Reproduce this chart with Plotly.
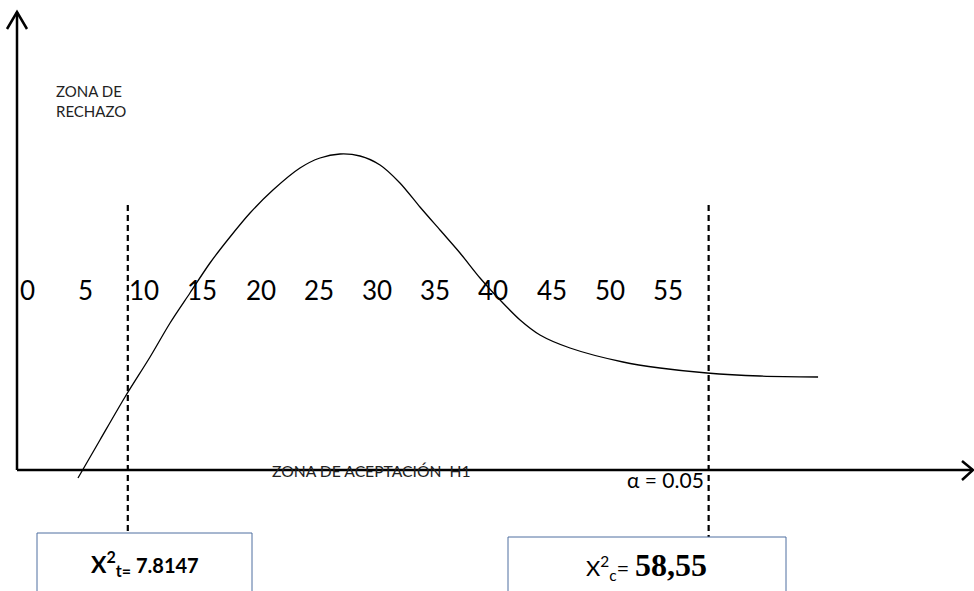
import plotly.graph_objects as go

# ---- data ----
tick_labels = ["0", "5", "10", "15", "20", "25", "30", "35", "40", "45", "50", "55"]
tick_values = [0, 5, 10, 15, 20, 25, 30, 35, 40, 45, 50, 55]

curve_x = [4.32, 6.21, 8.36, 10.51, 12.23, 13.94, 15.66, 17.38, 19.10, 21.07, 23.39,
           25.11, 26.83, 28.55, 30.27, 31.98, 33.70, 35.42, 37.14, 38.86, 40.58,
           42.30, 44.01, 46.59, 51.14, 54.32, 58.36, 62.91, 67.90]
curve_y = [-0.08, 0.30, 0.73, 1.13, 1.47, 1.77, 2.07, 2.33, 2.57, 2.80, 3.02,
           3.12, 3.16, 3.14, 3.05, 2.87, 2.63, 2.40, 2.17, 1.92, 1.70,
           1.50, 1.35, 1.22, 1.08, 1.02, 0.97, 0.94, 0.93]

critical_x = [8.6, 58.5]          # dashed lines (X²t and X²c positions as drawn)
chi_t = "7.8147"
chi_c = "58,55"
alpha = "0.05"

# ---- canvas geometry ----
W, H = 974, 591
X0, XS = 27.7, 11.64      # pixel = X0 + XS * value
Y0, YS = 470.0, 100.0     # pixel = Y0 - YS * value


def px(p):
    return (p - X0) / XS


def py(q):
    return (Y0 - q) / YS


fig = go.Figure()

fig.add_trace(go.Scatter(
    x=curve_x, y=curve_y, mode="lines",
    line=dict(color="black", width=1.3, shape="spline", smoothing=0.8),
    hoverinfo="skip", showlegend=False))

shapes = []
# y axis with open arrow
shapes.append(dict(type="line", x0=px(17), x1=px(17), y0=py(470), y1=py(12),
                   line=dict(color="black", width=2.5)))
shapes.append(dict(type="path",
                   path=f"M {px(7)} {py(29)} L {px(17)} {py(12)} L {px(27)} {py(29)}",
                   line=dict(color="black", width=2.5)))
# x axis with open arrow
shapes.append(dict(type="line", x0=px(17), x1=px(973), y0=0, y1=0,
                   line=dict(color="black", width=2.5)))
shapes.append(dict(type="path",
                   path=f"M {px(962)} {py(461)} L {px(973)} {py(470)} L {px(962)} {py(480)}",
                   line=dict(color="black", width=2.5)))
# dashed critical lines
box_tops = [533, 537]
for cx, bt in zip(critical_x, box_tops):
    shapes.append(dict(type="line", x0=cx, x1=cx, y0=py(205), y1=py(bt),
                       line=dict(color="black", width=2.2, dash="6px,4px")))
# boxes
shapes.append(dict(type="rect", x0=px(37), x1=px(252), y0=py(533), y1=py(600),
                   line=dict(color="#4F6FA0", width=1), fillcolor="white", layer="above"))
shapes.append(dict(type="rect", x0=px(508), x1=px(786), y0=py(537), y1=py(600),
                   line=dict(color="#4F6FA0", width=1), fillcolor="white", layer="above"))

ann = []
for lab, v in zip(tick_labels, tick_values):
    ann.append(dict(x=v, y=py(290), text=lab, showarrow=False, xanchor="center",
                    yanchor="middle", font=dict(family="Lato", size=26, color="black")))

ann.append(dict(x=px(54), y=py(101), text="ZONA DE<br>RECHAZO", showarrow=False,
                xanchor="left", yanchor="middle", align="left",
                font=dict(family="Lato", size=15, color="#222222")))
ann.append(dict(x=px(371), y=py(471), text="ZONA DE ACEPTACIÓN  H1", showarrow=False,
                xanchor="center", yanchor="middle",
                font=dict(family="Lato", size=15.7, color="#222222")))
ann.append(dict(x=px(706), y=py(479), text=f"α = {alpha}", showarrow=False,
                xanchor="right", yanchor="middle",
                font=dict(family="Lato", size=21, color="black")))
ann.append(dict(x=px(145), y=py(563),
                text=f"<b>X<sup>2</sup><sub>t=</sub><span style='font-size:20px'> {chi_t}</span></b>",
                showarrow=False, xanchor="center", yanchor="middle",
                font=dict(family="Lato", size=23, color="black")))
ann.append(dict(x=px(646), y=py(565),
                text=f"X<sup>2</sup><sub>c</sub>= <span style='font-family:Liberation Serif;font-size:32px'><b>{chi_c}</b></span>",
                showarrow=False, xanchor="center", yanchor="middle",
                font=dict(family="Lato", size=22, color="black")))

fig.update_layout(
    width=W, height=H, margin=dict(l=0, r=0, t=0, b=0),
    paper_bgcolor="white", plot_bgcolor="white",
    xaxis=dict(range=[px(0), px(W)], visible=False, fixedrange=True),
    yaxis=dict(range=[py(H), py(0)], visible=False, fixedrange=True),
    shapes=shapes, annotations=ann, showlegend=False)

fig.write_html("out.html", config={"displayModeBar": False},
               post_script="document.body.style.margin='0';")
